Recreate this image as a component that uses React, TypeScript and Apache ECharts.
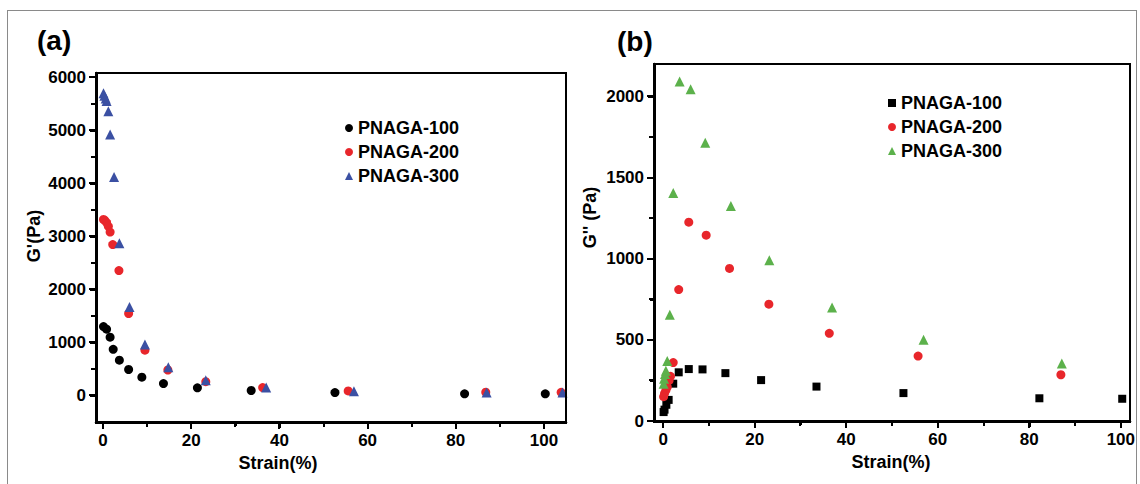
import React, { useEffect, useRef, useState } from "react";
import * as echarts from "echarts";

// ---------- data: panel (a) G' ----------
const strainA100 = [0.1, 0.8, 1.6, 2.3, 3.7, 5.8, 8.8, 13.7, 21.4, 33.6, 52.6, 82.0, 100.3];
const gpA100 = [1300, 1250, 1100, 870, 665, 490, 345, 225, 145, 94, 55, 32, 32];
const strainA200 = [0.1, 0.4, 0.8, 1.2, 1.6, 2.2, 3.6, 5.8, 9.5, 14.7, 23.3, 36.2, 55.6, 86.8, 103.9];
const gpA200 = [3320, 3300, 3260, 3190, 3080, 2845, 2355, 1545, 855, 480, 260, 150, 85, 62, 60];
const strainA300 = [0.1, 0.3, 0.6, 0.8, 1.2, 1.6, 2.5, 3.7, 6.0, 9.5, 14.8, 23.3, 37.0, 56.9, 87.0, 104.2];
const gpA300 = [5700, 5650, 5600, 5550, 5360, 4920, 4120, 2870, 1670, 960, 530, 285, 150, 80, 55, 55];

// ---------- data: panel (b) G'' ----------
const strainB100 = [0.1, 0.3, 0.7, 1.2, 2.2, 3.4, 5.6, 8.6, 13.6, 21.4, 33.5, 52.5, 82.2, 100.3];
const gppB100 = [55, 70, 100, 130, 230, 300, 320, 318, 295, 252, 212, 172, 140, 137];
const strainB200 = [0.1, 0.3, 0.6, 0.9, 1.3, 1.6, 2.2, 3.4, 5.6, 9.4, 14.5, 23.1, 36.3, 55.7, 86.9];
const gppB200 = [150, 170, 190, 210, 250, 275, 360, 810, 1225, 1145, 940, 720, 540, 400, 285];
const strainB300 = [0.1, 0.2, 0.4, 0.6, 0.9, 1.45, 2.2, 3.6, 6.0, 9.2, 14.8, 23.2, 36.9, 56.9, 87.1];
const gppB300 = [230, 260, 290, 310, 370, 655, 1405, 2092, 2045, 1715, 1325, 990, 700, 500, 355];

const seriesNames = ["PNAGA-100", "PNAGA-200", "PNAGA-300"];
const panelLabels = ["(a)", "(b)"];
const xTitle = "Strain(%)";
const yTitleA = "G'(Pa)";
const yTitleB = "G'' (Pa)";

// ---------- ticks ----------
const xMajor = [0, 20, 40, 60, 80, 100];
const xMinor = [10, 30, 50, 70, 90];
const yMajorA = [0, 1000, 2000, 3000, 4000, 5000, 6000];
const yMinorA = [500, 1500, 2500, 3500, 4500, 5500];
const yMajorB = [0, 500, 1000, 1500, 2000];
const yMinorB = [250, 750, 1250, 1750];

const X_RANGE_A = [-1.6, 105];
const Y_RANGE_A = [-500, 6080];
const X_RANGE_B = [-2, 102];
const Y_RANGE_B = [0, 2200];

const FONT = "'Liberation Sans', Arial, Helvetica, sans-serif";
const RED = "#e8262b";
const BLUE = "#3b50a3";
const GREEN = "#5cb14b";

const GRID_A = { left: 96, top: 73, width: 470, height: 349 };
const GRID_B = { left: 654, top: 64, width: 476, height: 357 };

const zip = (x: number[], y: number[]) => x.map((v, i) => [v, y[i]]);

function mainAxis(
  gridIndex: number,
  range: number[],
  major: number[],
  position: string,
  name: string,
  nameGap: number,
  namePadding: number[]
) {
  return {
    type: "value",
    gridIndex,
    position,
    min: range[0],
    max: range[1],
    name,
    nameLocation: "middle",
    nameGap,
    nameTextStyle: {
      fontSize: 18,
      fontWeight: "bold",
      color: "#000",
      fontFamily: FONT,
      padding: namePadding,
    },
    axisLine: { show: true, onZero: false, lineStyle: { color: "#000", width: 2.5 } },
    axisTick: { show: true, inside: false, length: 6, customValues: major, lineStyle: { color: "#000", width: 2 } },
    axisLabel: {
      show: true,
      customValues: major,
      color: "#000",
      fontSize: 17,
      fontWeight: "bold",
      fontFamily: FONT,
      margin: 10,
      formatter: (v: number) => String(v),
    },
    splitLine: { show: false },
  };
}

function minorAxis(gridIndex: number, range: number[], minor: number[], position: string) {
  return {
    type: "value",
    gridIndex,
    position,
    offset: 0,
    min: range[0],
    max: range[1],
    axisLine: { show: false, onZero: false },
    axisTick: { show: true, inside: false, length: 4, customValues: minor, lineStyle: { color: "#000", width: 2 } },
    axisLabel: { show: false },
    splitLine: { show: false },
  };
}

const legendText = { fontSize: 18, fontWeight: "bold", color: "#000", fontFamily: FONT, lineHeight: 20 };
const panelTitleText = { fontSize: 28, fontWeight: "bold", color: "#000", fontFamily: FONT };

type Box = { left: number; top: number; width: number; height: number; css?: any };

// axis frame and ticks, placed through the chart's own axis scales
function frameBoxes(
  chart: any,
  grid: { left: number; top: number; width: number; height: number },
  xAxisIndex: number,
  yAxisIndex: number,
  xRange: number[],
  yRange: number[],
  xMaj: number[],
  xMin: number[],
  yMaj: number[],
  yMin: number[]
): Box[] {
  const L = grid.left;
  const T = grid.top;
  const R = grid.left + grid.width;
  const B = grid.top + grid.height;
  const toX = (v: number) => {
    try {
      const p = chart.convertToPixel({ xAxisIndex }, v);
      if (typeof p === "number" && isFinite(p)) return p;
    } catch (e) {}
    return L + ((v - xRange[0]) / (xRange[1] - xRange[0])) * grid.width;
  };
  const toY = (v: number) => {
    try {
      const p = chart.convertToPixel({ yAxisIndex }, v);
      if (typeof p === "number" && isFinite(p)) return p;
    } catch (e) {}
    return B - ((v - yRange[0]) / (yRange[1] - yRange[0])) * grid.height;
  };
  const boxes: Box[] = [
    {
      left: L - 1.5,
      top: T - 1,
      width: R + 1 - (L - 1.5),
      height: B + 1.5 - (T - 1),
      css: {
        borderTop: "2px solid #000",
        borderRight: "2px solid #000",
        borderLeft: "3px solid #000",
        borderBottom: "3px solid #000",
        boxSizing: "border-box",
      },
    },
  ];
  xMaj.forEach((v) => boxes.push({ left: toX(v) - 1, top: B, width: 2, height: 7 }));
  xMin.forEach((v) => boxes.push({ left: toX(v) - 1, top: B, width: 2, height: 5 }));
  yMaj.forEach((v) => boxes.push({ left: L - 7, top: toY(v) - 1, width: 7, height: 2 }));
  yMin.forEach((v) => boxes.push({ left: L - 5, top: toY(v) - 1, width: 5, height: 2 }));
  return boxes;
}

export default function App() {
  const ref = useRef<HTMLDivElement>(null);
  const [boxes, setBoxes] = useState<Box[]>([]);
  useEffect(() => {
    const chart = echarts.init(ref.current!, null, { renderer: "svg" });
    const option = {
      animation: false,
      title: [
        { text: panelLabels[0], left: 37, top: 26, padding: 0, textStyle: panelTitleText },
        { text: panelLabels[1], left: 617, top: 27, padding: 0, textStyle: panelTitleText },
      ],
      grid: [
        { ...GRID_A, show: true, borderColor: "#000", borderWidth: 2 },
        { ...GRID_B, show: true, borderColor: "#000", borderWidth: 2 },
      ],
      xAxis: [
        mainAxis(0, X_RANGE_A, xMajor, "bottom", xTitle, 32, [0, 106, 0, 0]),
        minorAxis(0, X_RANGE_A, xMinor, "bottom"),
        mainAxis(1, X_RANGE_B, xMajor, "bottom", xTitle, 30, [0, 2, 0, 0]),
        minorAxis(1, X_RANGE_B, xMinor, "bottom"),
      ],
      yAxis: [
        mainAxis(0, Y_RANGE_A, yMajorA, "left", yTitleA, 53, [0, 0, 0, 23]),
        minorAxis(0, Y_RANGE_A, yMinorA, "left"),
        mainAxis(1, Y_RANGE_B, yMajorB, "left", yTitleB, 55, [0, 0, 0, 50]),
        minorAxis(1, Y_RANGE_B, yMinorB, "left"),
      ],
      legend: [
        {
          left: 340,
          top: 113,
          orient: "vertical",
          itemWidth: 8,
          itemHeight: 8,
          itemGap: 4,
          itemTextGap: 18,
          selectedMode: false,
          textStyle: legendText,
          data: [
            { name: seriesNames[0], icon: "circle", itemStyle: { color: "#000" } },
            { name: seriesNames[1], icon: "circle", itemStyle: { color: RED } },
            { name: seriesNames[2], icon: "triangle", itemStyle: { color: BLUE } },
          ],
        },
        {
          left: 883,
          top: 88,
          orient: "vertical",
          itemWidth: 8,
          itemHeight: 8,
          itemGap: 4,
          itemTextGap: 21,
          selectedMode: false,
          textStyle: legendText,
          data: [
            { name: seriesNames[0], icon: "rect", itemStyle: { color: "#000" } },
            { name: seriesNames[1], icon: "circle", itemStyle: { color: RED } },
            { name: seriesNames[2], icon: "triangle", itemStyle: { color: GREEN } },
          ],
        },
      ],
      series: [
        { type: "scatter", name: seriesNames[0], xAxisIndex: 0, yAxisIndex: 0, symbol: "circle", symbolSize: 9, itemStyle: { color: "#000", opacity: 1 }, data: zip(strainA100, gpA100) },
        { type: "scatter", name: seriesNames[1], xAxisIndex: 0, yAxisIndex: 0, symbol: "circle", symbolSize: 9, itemStyle: { color: RED, opacity: 1 }, data: zip(strainA200, gpA200) },
        { type: "scatter", name: seriesNames[2], xAxisIndex: 0, yAxisIndex: 0, symbol: "triangle", symbolSize: 10, itemStyle: { color: BLUE, opacity: 1 }, data: zip(strainA300, gpA300) },
        { type: "scatter", name: seriesNames[0], xAxisIndex: 2, yAxisIndex: 2, symbol: "rect", symbolSize: 8, itemStyle: { color: "#000", opacity: 1 }, data: zip(strainB100, gppB100) },
        { type: "scatter", name: seriesNames[1], xAxisIndex: 2, yAxisIndex: 2, symbol: "circle", symbolSize: 9, itemStyle: { color: RED, opacity: 1 }, data: zip(strainB200, gppB200) },
        { type: "scatter", name: seriesNames[2], xAxisIndex: 2, yAxisIndex: 2, symbol: "triangle", symbolSize: 10, itemStyle: { color: GREEN, opacity: 1 }, data: zip(strainB300, gppB300) },
      ],
    };
    chart.setOption(option as any);
    setBoxes([
      ...frameBoxes(chart, GRID_A, 0, 0, X_RANGE_A, Y_RANGE_A, xMajor, xMinor, yMajorA, yMinorA),
      ...frameBoxes(chart, GRID_B, 2, 2, X_RANGE_B, Y_RANGE_B, xMajor, xMinor, yMajorB, yMinorB),
    ]);
    return () => chart.dispose();
  }, []);
  return (
    <div>
      <div
        ref={ref}
        style={{ position: "fixed", left: 0, top: 0, width: 1140, height: 484, background: "#fff" }}
      />
      {boxes.map((b, i) => (
        <div
          key={i}
          style={{
            position: "fixed",
            left: b.left,
            top: b.top,
            width: b.width,
            height: b.height,
            background: b.css ? "transparent" : "#000",
            pointerEvents: "none",
            zIndex: 2,
            ...(b.css || {}),
          }}
        />
      ))}
      <div
        style={{
          position: "fixed",
          left: 7,
          top: 10,
          width: 1130,
          height: 490,
          boxSizing: "border-box",
          borderLeft: "1.5px solid #8a8a8a",
          borderTop: "1.5px solid #8a8a8a",
          borderRight: "1.5px solid #8a8a8a",
          pointerEvents: "none",
          zIndex: 2,
        }}
      />
    </div>
  );
}
